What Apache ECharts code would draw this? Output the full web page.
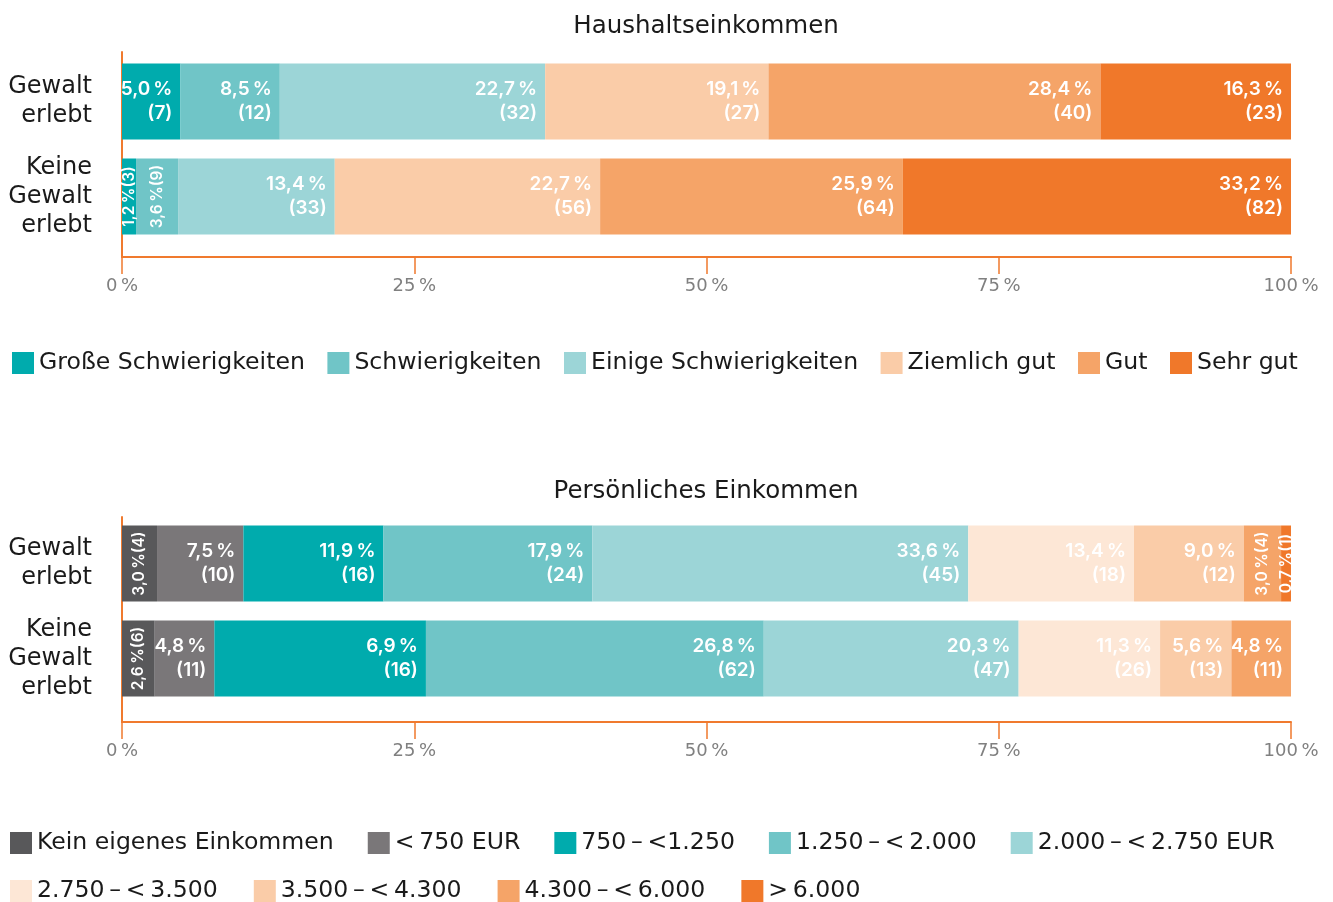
<!DOCTYPE html>
<html>
<head>
<meta charset="utf-8">
<title>Einkommen</title>
<script src="https://cdn.jsdelivr.net/npm/echarts@6/dist/echarts.min.js"></script>
<style>
  html, body { margin: 0; padding: 0; background: #fff; }
  #chart { width: 1333px; height: 902px; }
</style>
</head>
<body>
<div id="chart"></div>
<script>
// Kategorien (Zeilen)
const rowNames = ['Gewalt\nerlebt', 'Keine\nGewalt\nerlebt'];

// Haushaltseinkommen
const hhSeries = ['Große Schwierigkeiten', 'Schwierigkeiten', 'Einige Schwierigkeiten', 'Ziemlich gut', 'Gut', 'Sehr gut'];
const hhColors = ['#00abad', '#70c5c7', '#9cd5d7', '#facca8', '#f5a468', '#f0782a'];
const hhGewalt = [5.0, 8.5, 22.7, 19.1, 28.4, 16.3];
const hhGewaltN = [7, 12, 32, 27, 40, 23];
const hhKeine = [1.2, 3.6, 13.4, 22.7, 25.9, 33.2];
const hhKeineN = [3, 9, 33, 56, 64, 82];

// Persönliches Einkommen (schmale Leerzeichen wie im Original)
const peSeries = ['Kein eigenes Einkommen', '<\u2009750 EUR', '750\u2009–\u2009<1.250', '1.250\u2009–\u2009<\u20092.000',
  '2.000\u2009–\u2009<\u20092.750 EUR', '2.750\u2009–\u2009<\u20093.500', '3.500\u2009–\u2009<\u20094.300',
  '4.300\u2009–\u2009<\u20096.000', '>\u20096.000'];
const peColors = ['#58585a', '#7a7779', '#00abad', '#70c5c7', '#9cd5d7', '#fde7d6', '#facca8', '#f5a468', '#f0782a'];
// Balkenlängen wie gezeichnet (weichen teils von den Beschriftungen ab)
const peGewalt = [3.0, 7.4, 12.0, 17.9, 32.2, 14.2, 9.4, 3.2, 0.85];
const peKeine = [2.8, 5.1, 18.1, 28.9, 21.8, 12.1, 6.1, 5.1, 0];
// gedruckte Beschriftungen
const peGewaltLbl = [3.0, 7.5, 11.9, 17.9, 33.6, 13.4, 9.0, 3.0, 0.7];
const peGewaltN = [4, 10, 16, 24, 45, 18, 12, 4, 1];
const peKeineLbl = [2.6, 4.8, 6.9, 26.8, 20.3, 11.3, 5.6, 4.8, null];
const peKeineN = [6, 11, 16, 62, 47, 26, 13, 11, null];

const axisTicks = [0, 25, 50, 75, 100];

const FONT = 'Inter';
const TEXT_FONT = 'DejaVu Sans';
const ORANGE = '#f07a2e';

const fmt = (v) => v.toFixed(1).replace('.', ',');

function buildSeries(names, colors, rows, lbls, counts, gridIdx) {
  const sums = rows.map((r) => r.reduce((a, b) => a + b, 0));
  return names.map((name, i) => ({
    name: name,
    type: 'bar',
    stack: 'g' + gridIdx,
    xAxisIndex: gridIdx,
    yAxisIndex: gridIdx,
    barWidth: 76,
    itemStyle: { color: colors[i] },
    emphasis: { disabled: true },
    data: rows.map((r, k) => {
      const share = (r[i] / sums[k]) * 100;
      const item = { value: share, pct: lbls[k][i], n: counts[k][i] };
      if (!r[i]) {
        item.label = { show: false };
      } else if (share < 4.5) {
        // schmale Segmente: senkrechte Beschriftung
        item.label = {
          show: true,
          position: 'inside',
          rotate: 90,
          align: 'center',
          verticalAlign: 'middle',
          fontSize: 15.5,
          fontWeight: 600,
          lineHeight: 16,
          formatter: (p) => fmt(p.data.pct) + '\u202F%(' + p.data.n + ')',
        };
      }
      return item;
    }),
    label: {
      show: true,
      position: 'insideRight',
      distance: 8,
      color: '#fff',
      fontFamily: FONT,
      fontSize: 19,
      fontWeight: 600,
      lineHeight: 24,
      align: 'right',
      formatter: (p) => fmt(p.data.pct) + '\u202F%\n(' + p.data.n + ')',
    },
  }));
}

const chart = echarts.init(document.getElementById('chart'));

const plotLeft = 122;
const plotWidth = 1169;

function barGrid(top) {
  return { left: plotLeft, width: plotWidth, top: top, height: 190 };
}
function decoGrid(top) {
  return { left: plotLeft, width: plotWidth, top: top, height: 205 };
}

const hiddenX = (gi) => ({ type: 'value', gridIndex: gi, min: 0, max: 100, show: false });
const decoX = (gi) => ({
  type: 'value', gridIndex: gi, min: 0, max: 100, interval: 25,
  axisLine: { show: true, lineStyle: { color: ORANGE, width: 2 } },
  axisTick: { show: true, length: 17, lineStyle: { color: ORANGE, width: 1.5 } },
  splitLine: { show: false },
  axisLabel: {
    margin: 20, color: '#808080', fontFamily: TEXT_FONT, fontSize: 18,
    formatter: (v) => (axisTicks.indexOf(v) >= 0 ? v + '\u202F%' : ''),
  },
});
const catY = (gi) => ({
  type: 'category', gridIndex: gi, inverse: true, data: rowNames,
  axisLine: { show: false }, axisTick: { show: false },
  axisLabel: { margin: 30, color: '#1a1a1a', fontFamily: TEXT_FONT, fontSize: 24, lineHeight: 29, align: 'right' },
});
const decoY = (gi) => ({
  type: 'value', gridIndex: gi, min: 0, max: 1,
  axisLine: { show: true, lineStyle: { color: ORANGE, width: 2 } },
  axisTick: { show: false }, axisLabel: { show: false }, splitLine: { show: false },
});

const legendBase = {
  icon: 'rect', itemWidth: 22, itemHeight: 22, itemGap: 22.5, padding: 0,
  selectedMode: false,
  textStyle: { fontFamily: TEXT_FONT, fontSize: 23.6, lineHeight: 22, color: '#1a1a1a' },
};

const titleStyle = { fontFamily: TEXT_FONT, fontSize: 24.5, fontWeight: 'normal', color: '#1a1a1a' };

chart.setOption({
  animation: false,
  title: [
    { text: 'Haushaltseinkommen', left: 706, top: 14, padding: 0, textAlign: 'center', textStyle: titleStyle },
    { text: 'Persönliches Einkommen', left: 706, top: 479, padding: 0, textAlign: 'center', textStyle: titleStyle },
  ],
  legend: [
    Object.assign({}, legendBase, { data: hhSeries, left: 12, top: 351 }),
    Object.assign({}, legendBase, { data: peSeries.slice(0, 5), left: 10, top: 831, itemGap: 34 }),
    Object.assign({}, legendBase, { data: peSeries.slice(5), left: 10, top: 879, itemGap: 36 }),
  ],
  grid: [barGrid(54), decoGrid(52), barGrid(516), decoGrid(517)],
  xAxis: [hiddenX(0), decoX(1), hiddenX(2), decoX(3)],
  yAxis: [catY(0), decoY(1), catY(2), decoY(3)],
  series: [].concat(
    buildSeries(hhSeries, hhColors, [hhGewalt, hhKeine], [hhGewalt, hhKeine], [hhGewaltN, hhKeineN], 0),
    buildSeries(peSeries, peColors, [peGewalt, peKeine], [peGewaltLbl, peKeineLbl], [peGewaltN, peKeineN], 2)
  ),
});
</script>
</body>
</html>
